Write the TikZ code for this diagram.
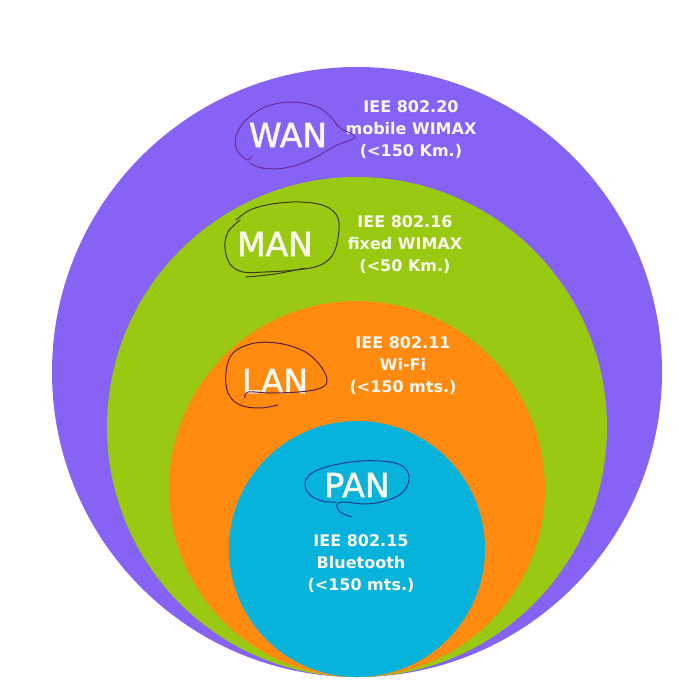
\documentclass[tikz,border=0pt]{standalone}
\usepackage{fontspec}
\setmainfont{DejaVu Sans}
\newfontfamily\bigfont[FakeBold=1.6]{DejaVu Sans}
\definecolor{wanC}{HTML}{8662F5}
\definecolor{manC}{HTML}{99C910}
\definecolor{lanC}{HTML}{FE8A10}
\definecolor{panC}{HTML}{08B3DB}
\definecolor{txtC}{HTML}{F8F8EE}
\definecolor{inkW}{HTML}{6A2C9E}
\definecolor{inkM}{HTML}{3C3B14}
\definecolor{inkL}{HTML}{5C1F4C}
\definecolor{inkP}{HTML}{1D3C8E}
\tikzset{
  zone/.style={circle, inner sep=0pt, draw=none},
  biglabel/.style={anchor=base, text=txtC, inner sep=0pt, font=\bigfont\fontsize{33}{33}\selectfont},
  info/.style={anchor=center, text=txtC, inner sep=0pt, align=center, font=\bfseries\fontsize{16}{22}\selectfont},
  ink/.style={line width=1pt, line cap=round, line join=round}
}
\begin{document}
\begin{tikzpicture}[x=1pt,y=-1pt]
\fill[white] (0,0) rectangle (678,686);
\useasboundingbox (0,0) rectangle (678,686);
% circles
\node[zone, fill=wanC, minimum size=610pt] (wan) at (357,372) {};
\node[zone, fill=manC, minimum size=500pt] (man) at (357,427) {};
\node[zone, fill=lanC, minimum size=376pt] (lan) at (357,489) {};
\node[zone, fill=panC, minimum size=256pt] (pan) at (357,549) {};
% big labels
\node[biglabel] (wanT) at (288,147) {WAN};
\node[biglabel] (manT) at (275,256) {MAN};
\node[biglabel] (lanT) at (275,393) {LAN};
\node[biglabel] (panT) at (357,497) {PAN};
% info texts
\node[info] (wanI) at (411,130) {IEE 802.20\\mobile WIMAX\\(<150 Km.)};
\node[info] (manI) at (405,245) {IEE 802.16\\fixed WIMAX\\(<50 Km.)};
\node[info] (lanI) at (403,366) {IEE 802.11\\Wi-Fi\\(<150 mts.)};
\node[info] (panI) at (361,564) {IEE 802.15\\Bluetooth\\(<150 mts.)};
% hand-drawn loops
\draw[ink, draw=inkW] plot[smooth, tension=0.6] coordinates {(252,156) (247,160) (237,150) (236,136) (246,120) (265,107) (290,102) (315,106) (330,116) (340,128) (355,137) (335,146) (310,160) (285,168) (262,168) (250,163)};
\draw[ink, draw=inkM] plot[smooth, tension=0.6] coordinates {(236,220) (250,210) (272,204) (300,202) (325,206) (338,218) (338,238) (332,256) (318,266) (295,270) (265,272) (243,272) (230,264) (225,248) (228,232) (240,220)};
\draw[ink, draw=inkM] plot[smooth, tension=0.6] coordinates {(246,277) (275,274) (305,268)};
\draw[ink, draw=inkL] plot[smooth, tension=0.6] coordinates {(278,405) (260,408) (240,405) (228,393) (226,372) (233,353) (255,343) (283,344) (307,353) (322,368) (327,382) (318,389) (298,392) (270,393) (248,392) (245,398)};
\draw[ink, draw=inkP] plot[smooth, tension=0.6] coordinates {(352,517) (340,512) (337,504) (345,502) (365,504) (385,501) (402,493) (409,480) (405,468) (390,462) (360,461) (330,466) (312,473) (305,483) (309,494) (322,501) (336,502)};
\end{tikzpicture}
\end{document}
